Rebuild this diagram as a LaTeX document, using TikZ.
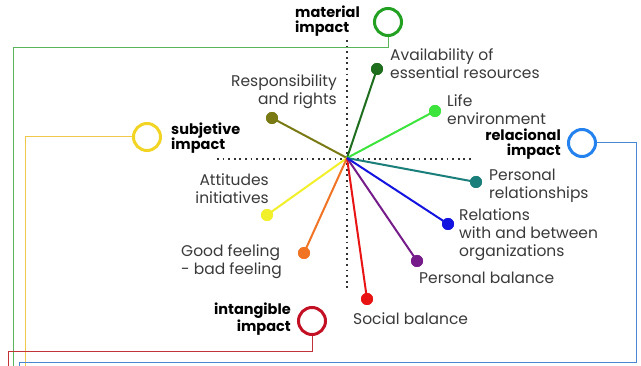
\documentclass[tikz,border=0pt]{standalone}
\usepackage{fontspec}
\setmainfont{Poppins}
\definecolor{txt}{HTML}{3A3A3A}
\definecolor{cAv}{HTML}{1E6E1E}
\definecolor{cLe}{HTML}{3CE43C}
\definecolor{cPr}{HTML}{1A7F7A}
\definecolor{cRe}{HTML}{1414E0}
\definecolor{cPb}{HTML}{761C8A}
\definecolor{cSb}{HTML}{E81414}
\definecolor{cGf}{HTML}{F07424}
\definecolor{cAt}{HTML}{F2F02A}
\definecolor{cRr}{HTML}{7A7A14}
\definecolor{rMat}{HTML}{22A022}
\definecolor{rSub}{HTML}{F2D424}
\definecolor{rRel}{HTML}{2482EE}
\definecolor{rInt}{HTML}{C41024}
\definecolor{lMat}{HTML}{5AB45A}
\definecolor{lSub}{HTML}{F2C84A}
\definecolor{lRel}{HTML}{4A86D2}
\definecolor{lInt}{HTML}{C23438}
\begin{document}
\begin{tikzpicture}[x=1pt,y=-1pt,
  dot/.style={circle,fill=#1,inner sep=0pt,minimum size=12pt},
  spoke/.style={draw=#1,line width=2pt},
  lbl/.style={font=\fontsize{15.5}{18}\selectfont,text=txt,inner sep=0pt},
  imp/.style={font=\fontsize{14.5}{15.5}\selectfont\bfseries,text=black,inner sep=0pt},
  ring/.style={circle,draw=#1,line width=3pt,minimum size=27pt,inner sep=0pt},
  link/.style={draw=#1,line width=1pt},
  axis/.style={draw=black!80,line width=1.8pt,dash pattern=on 1.8pt off 3.8pt}]
\useasboundingbox (0,0) rectangle (641,366);
\fill[white] (0,0) rectangle (641,366);
% axes
\coordinate (C) at (347,158);
\coordinate (hl) at (217,159);
\coordinate (hr) at (473,159);
\coordinate (vt) at (347,40);
\coordinate (vb) at (347,288);
\draw[axis] (hl) -- (hr);
\draw[axis] (vt) -- (vb);
% dots
\node[dot=cAv] (av) at (377,69) {};
\node[dot=cLe] (le) at (435,111) {};
\node[dot=cPr] (pr) at (476,182) {};
\node[dot=cRe] (re) at (448,224) {};
\node[dot=cPb] (pb) at (417,261) {};
\node[dot=cSb] (sb) at (367,299) {};
\node[dot=cGf] (gf) at (304,253) {};
\node[dot=cAt] (at) at (267,215) {};
\node[dot=cRr] (rr) at (272,118) {};
% spokes
\draw[spoke=cRr] (C) -- (rr.center);
\draw[spoke=cAv] (C) -- (av.center);
\draw[spoke=cLe] (C) -- (le.center);
\draw[spoke=cPr] (C) -- (pr.center);
\draw[spoke=cAt] (C) -- (at.center);
\draw[spoke=cGf] (C) -- (gf.center);
\draw[spoke=cSb] (C) -- (sb.center);
\draw[spoke=cPb] (C) -- (pb.center);
\draw[spoke=cRe] (C) -- (re.center);
% redraw dots on top
\foreach \n/\c in {av/cAv,le/cLe,pr/cPr,re/cRe,pb/cPb,sb/cSb,gf/cGf,at/cAt,rr/cRr}
  \fill[\c] (\n) circle (6pt);
% labels
\node[lbl,anchor=west,align=left] (tav) at (390,64) {Availability of\\essential resources};
\node[lbl,anchor=west,align=left] (tle) at (447,110) {Life\\environment};
\node[lbl,anchor=west,align=left] (tpr) at (489,186) {Personal\\relationships};
\node[lbl,anchor=west,align=left] (tre) at (459,235) {Relations\\with and between\\organizations};
\node[lbl,anchor=west,align=left] (tpb) at (419,278) {Personal balance};
\node[lbl,anchor=west,align=left] (tsb) at (353,319) {Social balance};
\node[lbl,anchor=west,align=left] (tgf) at (181,262) {Good feeling\\- bad feeling};
\node[lbl,anchor=east,align=right] (tat) at (269,189) {Attitudes\\initiatives};
\node[lbl,anchor=east,align=right] (trr) at (337,92) {Responsibility\\and rights};
% impact rings
\node[ring=rMat] (mat) at (388,22) {};
\node[ring=rSub] (sub) at (147,137) {};
\node[ring=rRel] (rel) at (582,143) {};
\node[ring=rInt] (int) at (312,321) {};
\node[imp,anchor=west,align=left] (tmat) at (295,21) {material\\impact};
\node[imp,anchor=west,align=left] (tsub) at (171,138) {subjetive\\impact};
\node[imp,anchor=east,align=right] (trel) at (561,144) {relacional\\impact};
\node[imp,anchor=east,align=right] (tint) at (291,319) {intangible\\impact};
% links
\coordinate (m1) at (388,48); \coordinate (m2) at (13,48); \coordinate (m3) at (13,366);
\coordinate (s1) at (25,137); \coordinate (s2) at (25,366);
\coordinate (r1) at (636,143); \coordinate (r2) at (636,363); \coordinate (r3) at (19,363); \coordinate (r4) at (19,366);
\coordinate (i1) at (312,352); \coordinate (i2) at (8,352); \coordinate (i3) at (8,366);
\draw[link=lMat] (mat.south) -- (m1) -- (m2) -- (m3);
\draw[link=lSub] (sub.west) -- (s1) -- (s2);
\draw[link=lRel] (rel.east) -- (r1) -- (r2) -- (r3) -- (r4);
\draw[link=lInt] (int.south) -- (i1) -- (i2) -- (i3);
\end{tikzpicture}
\end{document}
